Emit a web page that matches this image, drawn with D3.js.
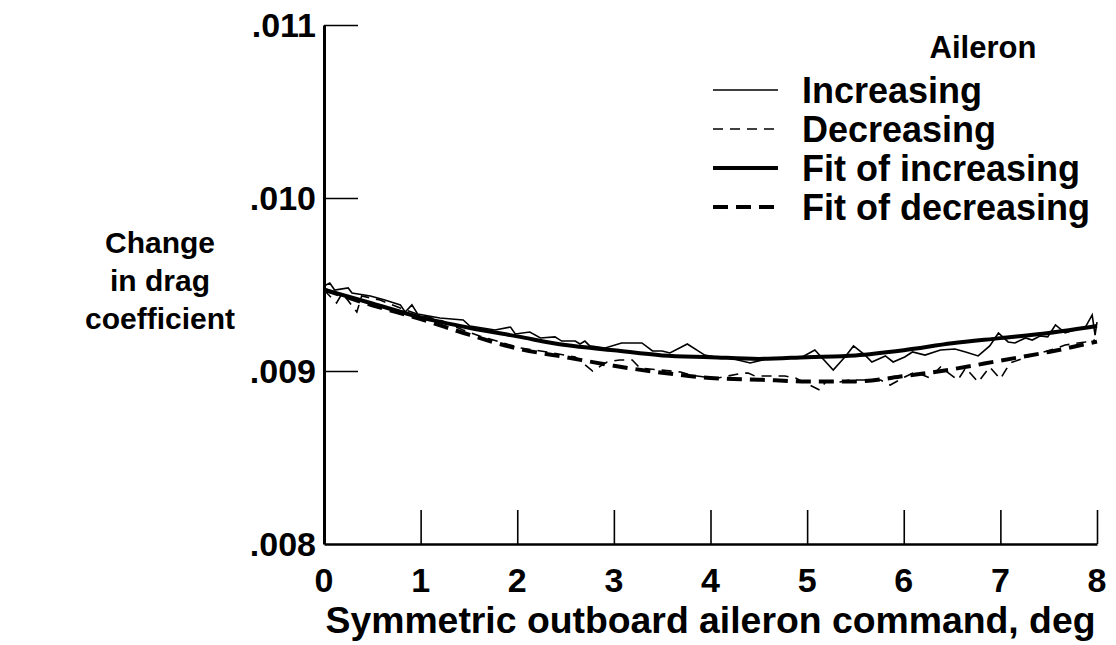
<!DOCTYPE html>
<html>
<head>
<meta charset="utf-8">
<script src="https://cdn.jsdelivr.net/npm/d3@7"></script>
<style>
  html, body { margin: 0; padding: 0; background: #fff; }
  svg { display: block; }
  text { font-family: "Liberation Sans", Arial, Helvetica, sans-serif; font-weight: bold; fill: #000; }
</style>
</head>
<body>
<svg id="chart" width="1116" height="645"></svg>
<script>
// ---------- data ----------
const xTicks = [0, 1, 2, 3, 4, 5, 6, 7, 8];
const yTicks = [0.008, 0.009, 0.010, 0.011];
const yTickLabels = [".008", ".009", ".010", ".011"];

const fitX = [0, 0.5, 1, 1.5, 2, 2.5, 3, 3.5, 4, 4.5, 5, 5.5, 6, 6.5, 7, 7.5, 8];
const fitIncreasing = [0.00947, 0.00939, 0.00931, 0.00925, 0.00920, 0.00915, 0.00912, 0.00909, 0.00908, 0.00907, 0.00908, 0.00909, 0.00912, 0.00916, 0.00919, 0.00922, 0.00926];
const fitDecreasing = [0.00947, 0.00938, 0.00930, 0.00921, 0.00913, 0.00908, 0.00903, 0.00899, 0.00896, 0.00895, 0.00894, 0.00894, 0.00897, 0.00901, 0.00906, 0.00911, 0.00917];

const incX = [0, 0.06, 0.11, 0.25, 0.29, 0.48, 0.63, 0.79, 0.84, 0.91, 0.97, 1.20, 1.44, 1.51, 1.77, 1.93, 1.98, 2.13, 2.24, 2.39, 2.46, 2.52, 2.60, 2.65, 2.70, 2.75, 2.91, 3.08, 3.29, 3.40, 3.50, 3.58, 3.76, 3.94, 4.05, 4.20, 4.41, 4.62, 4.93, 5.08, 5.27, 5.40, 5.48, 5.60, 5.67, 5.81, 5.89, 6.01, 6.09, 6.22, 6.38, 6.53, 6.64, 6.77, 6.89, 6.98, 7.08, 7.15, 7.26, 7.33, 7.41, 7.49, 7.57, 7.67, 7.77, 7.88, 7.95, 7.98, 8.0];
const incY = [0.009491, 0.009509, 0.009468, 0.009480, 0.009451, 0.009434, 0.009410, 0.009382, 0.009341, 0.009382, 0.009329, 0.009306, 0.009295, 0.009260, 0.009237, 0.009254, 0.009214, 0.009225, 0.009191, 0.009197, 0.009173, 0.009173, 0.009173, 0.009156, 0.009173, 0.009145, 0.009133, 0.009162, 0.009162, 0.009116, 0.009116, 0.009104, 0.009156, 0.009092, 0.009081, 0.009075, 0.009046, 0.009075, 0.009075, 0.009121, 0.009006, 0.009087, 0.009145, 0.009092, 0.009052, 0.009087, 0.009052, 0.009081, 0.009110, 0.009092, 0.009121, 0.009127, 0.009110, 0.009087, 0.009145, 0.009220, 0.009168, 0.009162, 0.009191, 0.009179, 0.009202, 0.009197, 0.009266, 0.009220, 0.009237, 0.009254, 0.009324, 0.009208, 0.009283];

const decX = [0, 0.13, 0.19, 0.34, 0.39, 0.58, 0.79, 0.99, 1.20, 1.44, 1.61, 1.82, 2.03, 2.31, 2.60, 2.78, 2.93, 3.06, 3.19, 3.27, 3.48, 3.69, 3.79, 3.94, 4.03, 4.33, 4.39, 4.46, 4.57, 4.77, 4.88, 5.13, 5.19, 5.34, 5.44, 5.60, 5.76, 5.86, 6.01, 6.12, 6.27, 6.38, 6.56, 6.64, 6.77, 6.89, 7.00, 7.10, 7.31, 7.52, 7.67, 7.88, 7.98];
const decY = [0.009468, 0.009393, 0.009451, 0.009341, 0.009434, 0.009410, 0.009364, 0.009324, 0.009295, 0.009237, 0.009202, 0.009168, 0.009133, 0.009110, 0.009081, 0.009000, 0.009052, 0.009064, 0.009064, 0.009017, 0.009006, 0.008994, 0.008977, 0.008965, 0.008954, 0.008988, 0.008988, 0.008971, 0.008971, 0.008971, 0.008960, 0.008890, 0.008936, 0.008936, 0.008948, 0.008948, 0.008948, 0.008919, 0.008965, 0.008994, 0.008960, 0.009023, 0.008948, 0.009017, 0.008936, 0.009023, 0.008954, 0.009046, 0.009087, 0.009121, 0.009150, 0.009168, 0.009179];

const legendLabels = ["Increasing", "Decreasing", "Fit of increasing", "Fit of decreasing"];
const legendTitle = "Aileron";
const yTitleLines = ["Change", "in drag", "coefficient"];
const xTitle = "Symmetric outboard aileron command, deg";

// ---------- layout ----------
const svg = d3.select("#chart");
const mLeft = 324, mRight = 1097, mTop = 25, mBottom = 544;
const x = d3.scaleLinear().domain([0, 8]).range([mLeft, mRight]);
const y = d3.scaleLinear().domain([0.008, 0.011]).range([mBottom, mTop]);

// y axis
const yAxis = d3.axisLeft(y).tickValues(yTicks.slice(1)).tickSizeInner(-34).tickSizeOuter(0).tickFormat(() => "");
const gy = svg.append("g").attr("transform", `translate(${mLeft},0)`).call(yAxis);
gy.select(".domain").attr("stroke", "#000").attr("stroke-width", 3);
gy.selectAll(".tick line").attr("stroke", "#000").attr("stroke-width", 1.6);

svg.selectAll(".ylab").data(yTicks).enter().append("text")
  .attr("x", mLeft - 8).attr("y", d => y(d)).attr("dy", "0.36em")
  .attr("text-anchor", "end").style("font-size", "34px")
  .text((d, i) => yTickLabels[i]);

// x axis
const xAxis = d3.axisBottom(x).tickValues(xTicks.slice(1)).tickSizeInner(-34).tickSizeOuter(0).tickFormat(() => "");
const gx = svg.append("g").attr("transform", `translate(0,${mBottom})`).call(xAxis);
gx.select(".domain").attr("stroke", "#000").attr("stroke-width", 2.5);
gx.selectAll(".tick line").attr("stroke", "#000").attr("stroke-width", 1.6);

svg.selectAll(".xlab").data(xTicks).enter().append("text")
  .attr("x", d => x(d)).attr("y", 580).attr("dy", "0.36em")
  .attr("text-anchor", "middle").style("font-size", "34px")
  .text(d => d);

svg.append("text").attr("x", (mLeft + mRight) / 2).attr("y", 620).attr("dy", "0.36em")
  .attr("text-anchor", "middle").style("font-size", "37px")
  .attr("textLength", 770).attr("lengthAdjust", "spacingAndGlyphs").text(xTitle);

svg.selectAll(".ytitle").data(yTitleLines).enter().append("text")
  .attr("x", 160).attr("y", (d, i) => 242 + i * 38).attr("dy", "0.36em")
  .attr("text-anchor", "middle").style("font-size", "30px").text(d => d);

// ---------- lines ----------
const rawLine = d3.line().x(d => x(d[0])).y(d => y(d[1])).curve(d3.curveLinear);
const fitLine = d3.line().x(d => x(d[0])).y(d => y(d[1])).curve(d3.curveMonotoneX);

const incData = incX.map((v, i) => [v, incY[i]]);
const decData = decX.map((v, i) => [v, decY[i]]);
const fitIncData = fitX.map((v, i) => [v, fitIncreasing[i]]);
const fitDecData = fitX.map((v, i) => [v, fitDecreasing[i]]);

const styles = [
  { w: 1.6, dash: null },
  { w: 1.6, dash: "10,7" },
  { w: 4, dash: null },
  { w: 4, dash: "15,8" }
];

svg.append("path").datum(decData).attr("d", rawLine).attr("fill", "none")
  .attr("stroke", "#000").attr("stroke-width", styles[1].w).attr("stroke-dasharray", styles[1].dash);
svg.append("path").datum(fitDecData).attr("d", fitLine).attr("fill", "none")
  .attr("stroke", "#000").attr("stroke-width", styles[3].w).attr("stroke-dasharray", styles[3].dash);
svg.append("path").datum(incData).attr("d", rawLine).attr("fill", "none")
  .attr("stroke", "#000").attr("stroke-width", styles[0].w).attr("stroke-linejoin", "miter");
svg.append("path").datum(fitIncData).attr("d", fitLine).attr("fill", "none")
  .attr("stroke", "#000").attr("stroke-width", styles[2].w);

// ---------- legend ----------
svg.append("text").attr("x", 983).attr("y", 47).attr("dy", "0.36em")
  .attr("text-anchor", "middle").style("font-size", "31px").text(legendTitle);

const legY = [90, 129, 168, 207];
const lg = svg.selectAll(".leg").data(legendLabels).enter().append("g");
lg.append("line").attr("x1", 713).attr("x2", 778)
  .attr("y1", (d, i) => legY[i]).attr("y2", (d, i) => legY[i])
  .attr("stroke", "#000").attr("stroke-width", (d, i) => styles[i].w)
  .attr("stroke-dasharray", (d, i) => styles[i].dash);
lg.append("text").attr("x", 802).attr("y", (d, i) => legY[i]).attr("dy", "0.36em")
  .style("font-size", "36px").text(d => d);
</script>
</body>
</html>
